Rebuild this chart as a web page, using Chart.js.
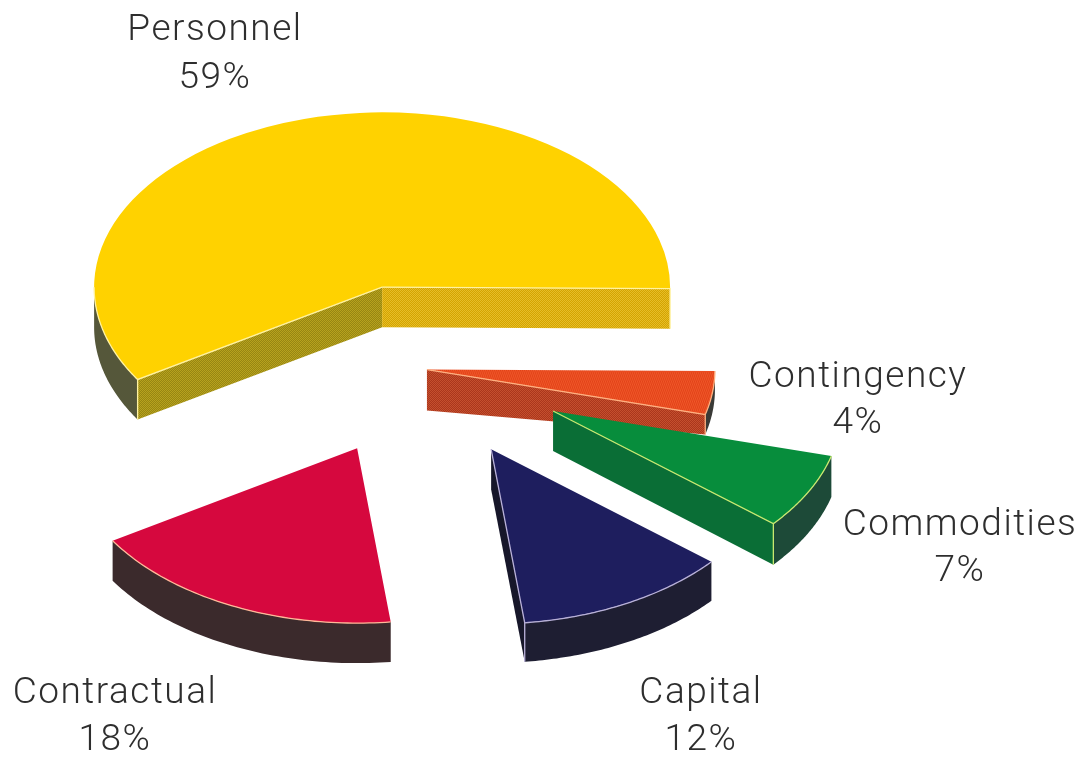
<!DOCTYPE html>
<html>
<head>
<meta charset="utf-8">
<title>Budget</title>
<script src="https://cdn.jsdelivr.net/npm/chart.js@4"></script>
<style>
  html, body { margin: 0; padding: 0; background: #fff; }
  canvas { display: block; }
</style>
</head>
<body>
<canvas id="budgetPie" width="1082" height="757"></canvas>
<script>
const categories = ['Personnel', 'Contingency', 'Commodities', 'Capital', 'Contractual'];
const shares = [59, 4, 7, 12, 18];

// How far each slice is pulled out of the pie
const explode = [140, 7, 150, 150, 145];

const tilt = 0.607;      // vertical squash of the pie

// Wall height at the slice apex and at its rim
const apexDrop = [40, 41, 40, 40, 40];
const rimDrop = [40, 20, 41, 39, 40];

// Two-colour dither used on the screened faces
function dither(a, b) {
  const c = document.createElement('canvas');
  c.width = c.height = 2;
  const g = c.getContext('2d');
  g.fillStyle = a;
  g.fillRect(0, 0, 2, 2);
  g.fillStyle = b;
  g.fillRect(0, 0, 1, 1);
  g.fillRect(1, 1, 1, 1);
  return g.createPattern(c, 'repeat');
}

const topColors = ['#ffd200', dither('#e4401a', '#ee5a28'), '#078d3c', '#1e1e5e', '#d6083e'];
const rimColors = ['#55573a', '#3a3a36', '#1d4a38', '#1e1e32', '#3b2a2c'];
const startWallColors = [dither('#978612', '#b7a21e'), null, null, null, null];
const endWallColors = [dither('#d4a400', '#e6bd28'), dither('#ab361c', '#c4502e'), '#0a6e36', '#17172a', null];
const edgeColors = ['#fff2a0', '#ffb080', '#c8e870', '#b8b0d8', '#ffb898'];

// Label anchors: centre x, first baseline, second baseline
const labelAnchors = [
  [215, 40, 88],
  [858, 387, 433],
  [960, 535, 581],
  [701, 703, 750],
  [115, 703, 750]
];

function centreY(chart) {
  return (chart.chartArea.top + chart.chartArea.bottom) / 2;
}

// Point on a slice in screen space, r along angle a from the slice apex
function project(chart, arc, a, r) {
  const cy = centreY(chart);
  return {
    x: arc.x + Math.cos(a) * r,
    y: cy + (arc.y + Math.sin(a) * r - cy) * tilt
  };
}

function radialWall(chart, arc, i, a, color) {
  const ctx = chart.ctx;
  const p0 = project(chart, arc, a, 0);
  const p1 = project(chart, arc, a, arc.outerRadius);
  ctx.fillStyle = color;
  ctx.beginPath();
  ctx.moveTo(p0.x, p0.y);
  ctx.lineTo(p1.x, p1.y);
  ctx.lineTo(p1.x, p1.y + rimDrop[i]);
  ctx.lineTo(p0.x, p0.y + apexDrop[i]);
  ctx.closePath();
  ctx.fill();
}

// Part of the angle range that faces the viewer (lower half of the ellipse)
function frontRange(arc) {
  const turn = Math.PI * 2;
  const s = arc.startAngle % turn;
  const e = s + (arc.endAngle - arc.startAngle);
  const from = Math.max(s, 0);
  const to = Math.min(e, Math.PI);
  return to > from ? [from, to] : null;
}

function traceRim(chart, arc, from, to, dy, first) {
  const ctx = chart.ctx;
  const steps = 60;
  for (let i = 0; i <= steps; i++) {
    const a = from + (to - from) * i / steps;
    const p = project(chart, arc, a, arc.outerRadius);
    if (i === 0 && first) ctx.moveTo(p.x, p.y + dy);
    else ctx.lineTo(p.x, p.y + dy);
  }
}

const explodedPie = {
  id: 'explodedPie',
  afterDatasetsUpdate(chart) {
    chart.getDatasetMeta(0).data.forEach((arc, i) => {
      const mid = (arc.startAngle + arc.endAngle) / 2;
      arc.x += Math.cos(mid) * explode[i];
      arc.y += Math.sin(mid) * explode[i];
    });
  },
  beforeDatasetsDraw(chart) {
    const ctx = chart.ctx;
    chart.getDatasetMeta(0).data.forEach((arc, i) => {
      if (startWallColors[i] && Math.cos(arc.startAngle) < 0) radialWall(chart, arc, i, arc.startAngle, startWallColors[i]);
      if (endWallColors[i] && Math.cos(arc.endAngle) > 0) radialWall(chart, arc, i, arc.endAngle, endWallColors[i]);
      const range = frontRange(arc);
      if (range) {
        ctx.fillStyle = rimColors[i];
        ctx.beginPath();
        traceRim(chart, arc, range[0], range[1], 0, true);
        traceRim(chart, arc, range[1], range[0], rimDrop[i], false);
        ctx.closePath();
        ctx.fill();
      }
    });
    const cy = centreY(chart);
    ctx.save();
    ctx.translate(0, cy);
    ctx.scale(1, tilt);
    ctx.translate(0, -cy);
  },
  afterDatasetsDraw(chart) {
    const ctx = chart.ctx;
    ctx.restore();
    // thin light edges where the top meets the walls
    ctx.lineWidth = 1.3;
    chart.getDatasetMeta(0).data.forEach((arc, i) => {
      ctx.strokeStyle = edgeColors[i];
      const range = frontRange(arc);
      if (range) {
        ctx.beginPath();
        traceRim(chart, arc, range[0], range[1], 0, true);
        ctx.stroke();
      }
      [[startWallColors[i], arc.startAngle, Math.cos(arc.startAngle) < 0],
       [endWallColors[i], arc.endAngle, Math.cos(arc.endAngle) > 0]].forEach(([wall, a, visible]) => {
        if (!wall || !visible) return;
        const p0 = project(chart, arc, a, 0);
        const p1 = project(chart, arc, a, arc.outerRadius);
        ctx.beginPath();
        ctx.moveTo(p0.x, p0.y);
        ctx.lineTo(p1.x, p1.y);
        ctx.lineTo(p1.x, p1.y + rimDrop[i]);
        ctx.stroke();
      });
    });
  },
  afterDraw(chart) {
    const ctx = chart.ctx;
    ctx.save();
    ctx.fillStyle = '#2e2e2e';
    ctx.font = '300 37px Roboto';
    ctx.letterSpacing = '1.5px';
    ctx.textAlign = 'center';
    categories.forEach((name, i) => {
      const [x, y1, y2] = labelAnchors[i];
      ctx.fillText(name, x, y1);
      ctx.fillText(shares[i] + '%', x, y2);
    });
    ctx.restore();
  }
};

new Chart(document.getElementById('budgetPie').getContext('2d'), {
  type: 'pie',
  data: {
    labels: categories,
    datasets: [{
      data: shares,
      backgroundColor: topColors,
      borderWidth: 0,
      clip: false
    }]
  },
  options: {
    responsive: false,
    animation: false,
    radius: 288,
    rotation: 238.1,
    layout: { padding: { left: 0, top: 0, right: 242, bottom: 19 } },
    plugins: {
      legend: { display: false },
      tooltip: { enabled: false }
    }
  },
  plugins: [explodedPie]
});
</script>
</body>
</html>
